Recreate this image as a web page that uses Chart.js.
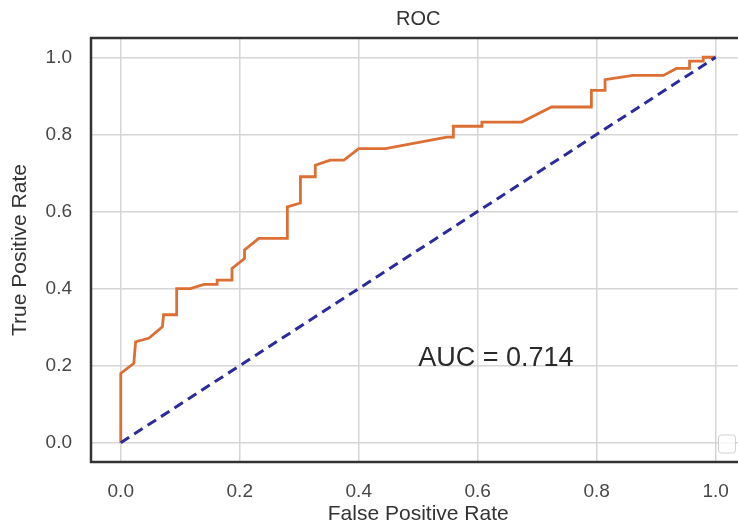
<!DOCTYPE html>
<html>
<head>
<meta charset="utf-8">
<script src="https://cdn.jsdelivr.net/npm/chart.js@4/dist/chart.umd.min.js"></script>
<style>
  html, body { margin: 0; padding: 0; background: #fff; width: 738px; height: 527px; overflow: hidden; }
  #wrap { width: 747px; height: 527px; position: relative; }
</style>
</head>
<body>
<div id="wrap"><canvas id="roc"></canvas></div>
<script>
// ROC curve points
const fpr = [0, 0, 0.022, 0.025, 0.047, 0.07, 0.072, 0.094, 0.094, 0.117, 0.14, 0.162, 0.162, 0.187, 0.187,
  0.208, 0.208, 0.232, 0.28, 0.28, 0.302, 0.302, 0.327, 0.327, 0.352, 0.375, 0.4, 0.445, 0.548, 0.559, 0.559,
  0.607, 0.607, 0.674, 0.724, 0.791, 0.791, 0.814, 0.814, 0.861, 0.912, 0.934, 0.956, 0.956, 0.979, 0.979, 1.0];
const tpr = [0, 0.18, 0.206, 0.262, 0.271, 0.301, 0.332, 0.332, 0.40, 0.40, 0.411, 0.411, 0.422, 0.422, 0.452,
  0.478, 0.5, 0.53, 0.53, 0.612, 0.622, 0.69, 0.69, 0.72, 0.733, 0.733, 0.763, 0.763, 0.793, 0.793, 0.821,
  0.821, 0.832, 0.832, 0.871, 0.871, 0.914, 0.914, 0.942, 0.953, 0.953, 0.971, 0.971, 0.99, 0.99, 1.0, 1.0];
const chanceX = [0, 1];
const chanceY = [0, 1];
const tickVals = [0, 0.2, 0.4, 0.6, 0.8, 1.0];
const tickLabels = ["0.0", "0.2", "0.4", "0.6", "0.8", "1.0"];
const aucText = "AUC = 0.714";
const aucPos = [0.5, 0.2];

const fontFamily = "'Liberation Sans', Arial, sans-serif";
const textColor = "#474747";
const gridColor = "#d6d6d6";

const fixedTicks = (scale) => {
  scale.ticks = tickVals.map((v) => ({ value: v }));
};

const framePlugin = {
  id: "frame",
  afterDraw(chart) {
    const { ctx, chartArea: a, scales } = chart;
    ctx.save();
    // AUC annotation
    ctx.font = "27px " + fontFamily;
    ctx.fillStyle = "#2a2a2a";
    ctx.textAlign = "left";
    ctx.textBaseline = "alphabetic";
    ctx.fillText(aucText, scales.x.getPixelForValue(aucPos[0]), scales.y.getPixelForValue(aucPos[1]));
    // empty legend box, lower right
    ctx.beginPath();
    ctx.roundRect(a.right - 27, a.bottom - 27, 17, 18, 3);
    ctx.fillStyle = "rgba(255,255,255,0.8)";
    ctx.fill();
    ctx.strokeStyle = "#d0d0d0";
    ctx.lineWidth = 1;
    ctx.stroke();
    // axes frame
    ctx.strokeStyle = "#333333";
    ctx.lineWidth = 2.5;
    ctx.strokeRect(a.left, a.top, a.right - a.left, a.bottom - a.top);
    ctx.restore();
  },
};

new Chart(document.getElementById("roc"), {
  type: "scatter",
  data: {
    datasets: [
      {
        data: chanceX.map((x, i) => ({ x, y: chanceY[i] })),
        showLine: true,
        borderColor: "#2b2b9b",
        borderWidth: 3,
        borderDash: [10, 6],
        pointRadius: 0,
        order: 0,
      },
      {
        data: fpr.map((x, i) => ({ x, y: tpr[i] })),
        showLine: true,
        borderColor: "#dc6f33",
        borderWidth: 2.8,
        pointRadius: 0,
        order: 1,
      },
    ],
  },
  options: {
    responsive: true,
    maintainAspectRatio: false,
    animation: false,
    layout: { padding: 0 },
    plugins: {
      legend: { display: false },
      tooltip: { enabled: false },
      title: {
        display: true,
        text: "ROC",
        fullSize: false,
        color: "#333333",
        font: { family: fontFamily, size: 20, weight: "normal" },
        padding: { top: 7.5, bottom: 6.5 },
      },
    },
    scales: {
      x: {
        type: "linear",
        min: -0.05,
        max: 1.05,
        afterBuildTicks: fixedTicks,
        afterFit: (s) => { s.height = 65; },
        grid: { color: gridColor, lineWidth: 1.5, drawTicks: false },
        border: { display: false },
        ticks: {
          padding: 18,
          color: textColor,
          font: { family: fontFamily, size: 19 },
          callback: (v) => tickLabels[tickVals.indexOf(v)],
        },
        title: {
          display: true,
          text: "False Positive Rate",
          color: "#333333",
          font: { family: fontFamily, size: 21 },
          padding: { top: 0, bottom: 0 },
        },
      },
      y: {
        type: "linear",
        min: -0.05,
        max: 1.05,
        afterBuildTicks: fixedTicks,
        afterFit: (s) => { s.width = 91; },
        grid: { color: gridColor, lineWidth: 1.5, drawTicks: false },
        border: { display: false },
        ticks: {
          padding: 19,
          color: textColor,
          font: { family: fontFamily, size: 19 },
          callback: (v) => tickLabels[tickVals.indexOf(v)],
        },
        title: {
          display: true,
          text: "True Positive Rate",
          color: "#333333",
          font: { family: fontFamily, size: 21 },
          padding: { top: 8, bottom: 0 },
        },
      },
    },
  },
  plugins: [framePlugin],
});
</script>
</body>
</html>
